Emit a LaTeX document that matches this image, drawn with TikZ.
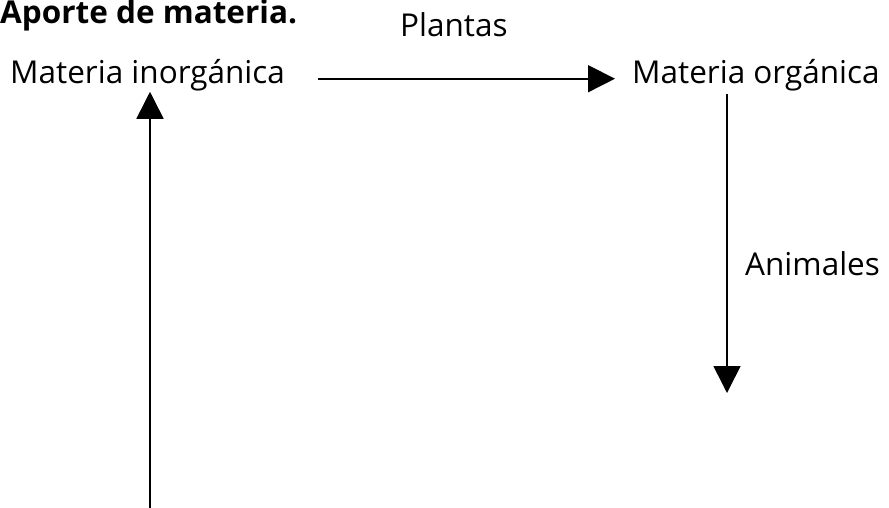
\documentclass[tikz,border=0pt]{standalone}
\usepackage{fontspec}
\setmainfont{Open Sans}
\usetikzlibrary{arrows.meta, positioning}

\begin{document}
\begin{tikzpicture}[
    x=1pt, y=-1pt,
    every node/.style={
        inner sep=0pt,
        anchor=base west,
        font=\fontsize{31.5}{36}\selectfont
    },
    arrow/.style={-{Triangle[length=27pt, width=27pt]}, line width=1.6pt}
]
\useasboundingbox (0,0) rectangle (889,508);

% ---------- TEXTS
\node (title) at (0,24) {\textbf{Aporte de materia.}};
\node (inorg) at (10,84) {Materia inorgánica};
\node (org) at (632,84) {Materia orgánica};
\node (plantas) at (400,37) {Plantas};
\node (animales) at (745,275) {Animales};

% ---------- FREE ENDS
\coordinate (animend) at (727,393);
\coordinate (cyclestart) at (150,508);

% ---------- FLOW
\draw[arrow, shorten <=33pt, shorten >=17pt] ([yshift=-3pt]inorg.east) -- ([yshift=-3pt]org.west);
\draw[arrow] (org.south -| animend) ++(0,2) -- (animend);
\draw[arrow] (cyclestart) -- (cyclestart |- inorg.south);

\end{tikzpicture}
\end{document}
